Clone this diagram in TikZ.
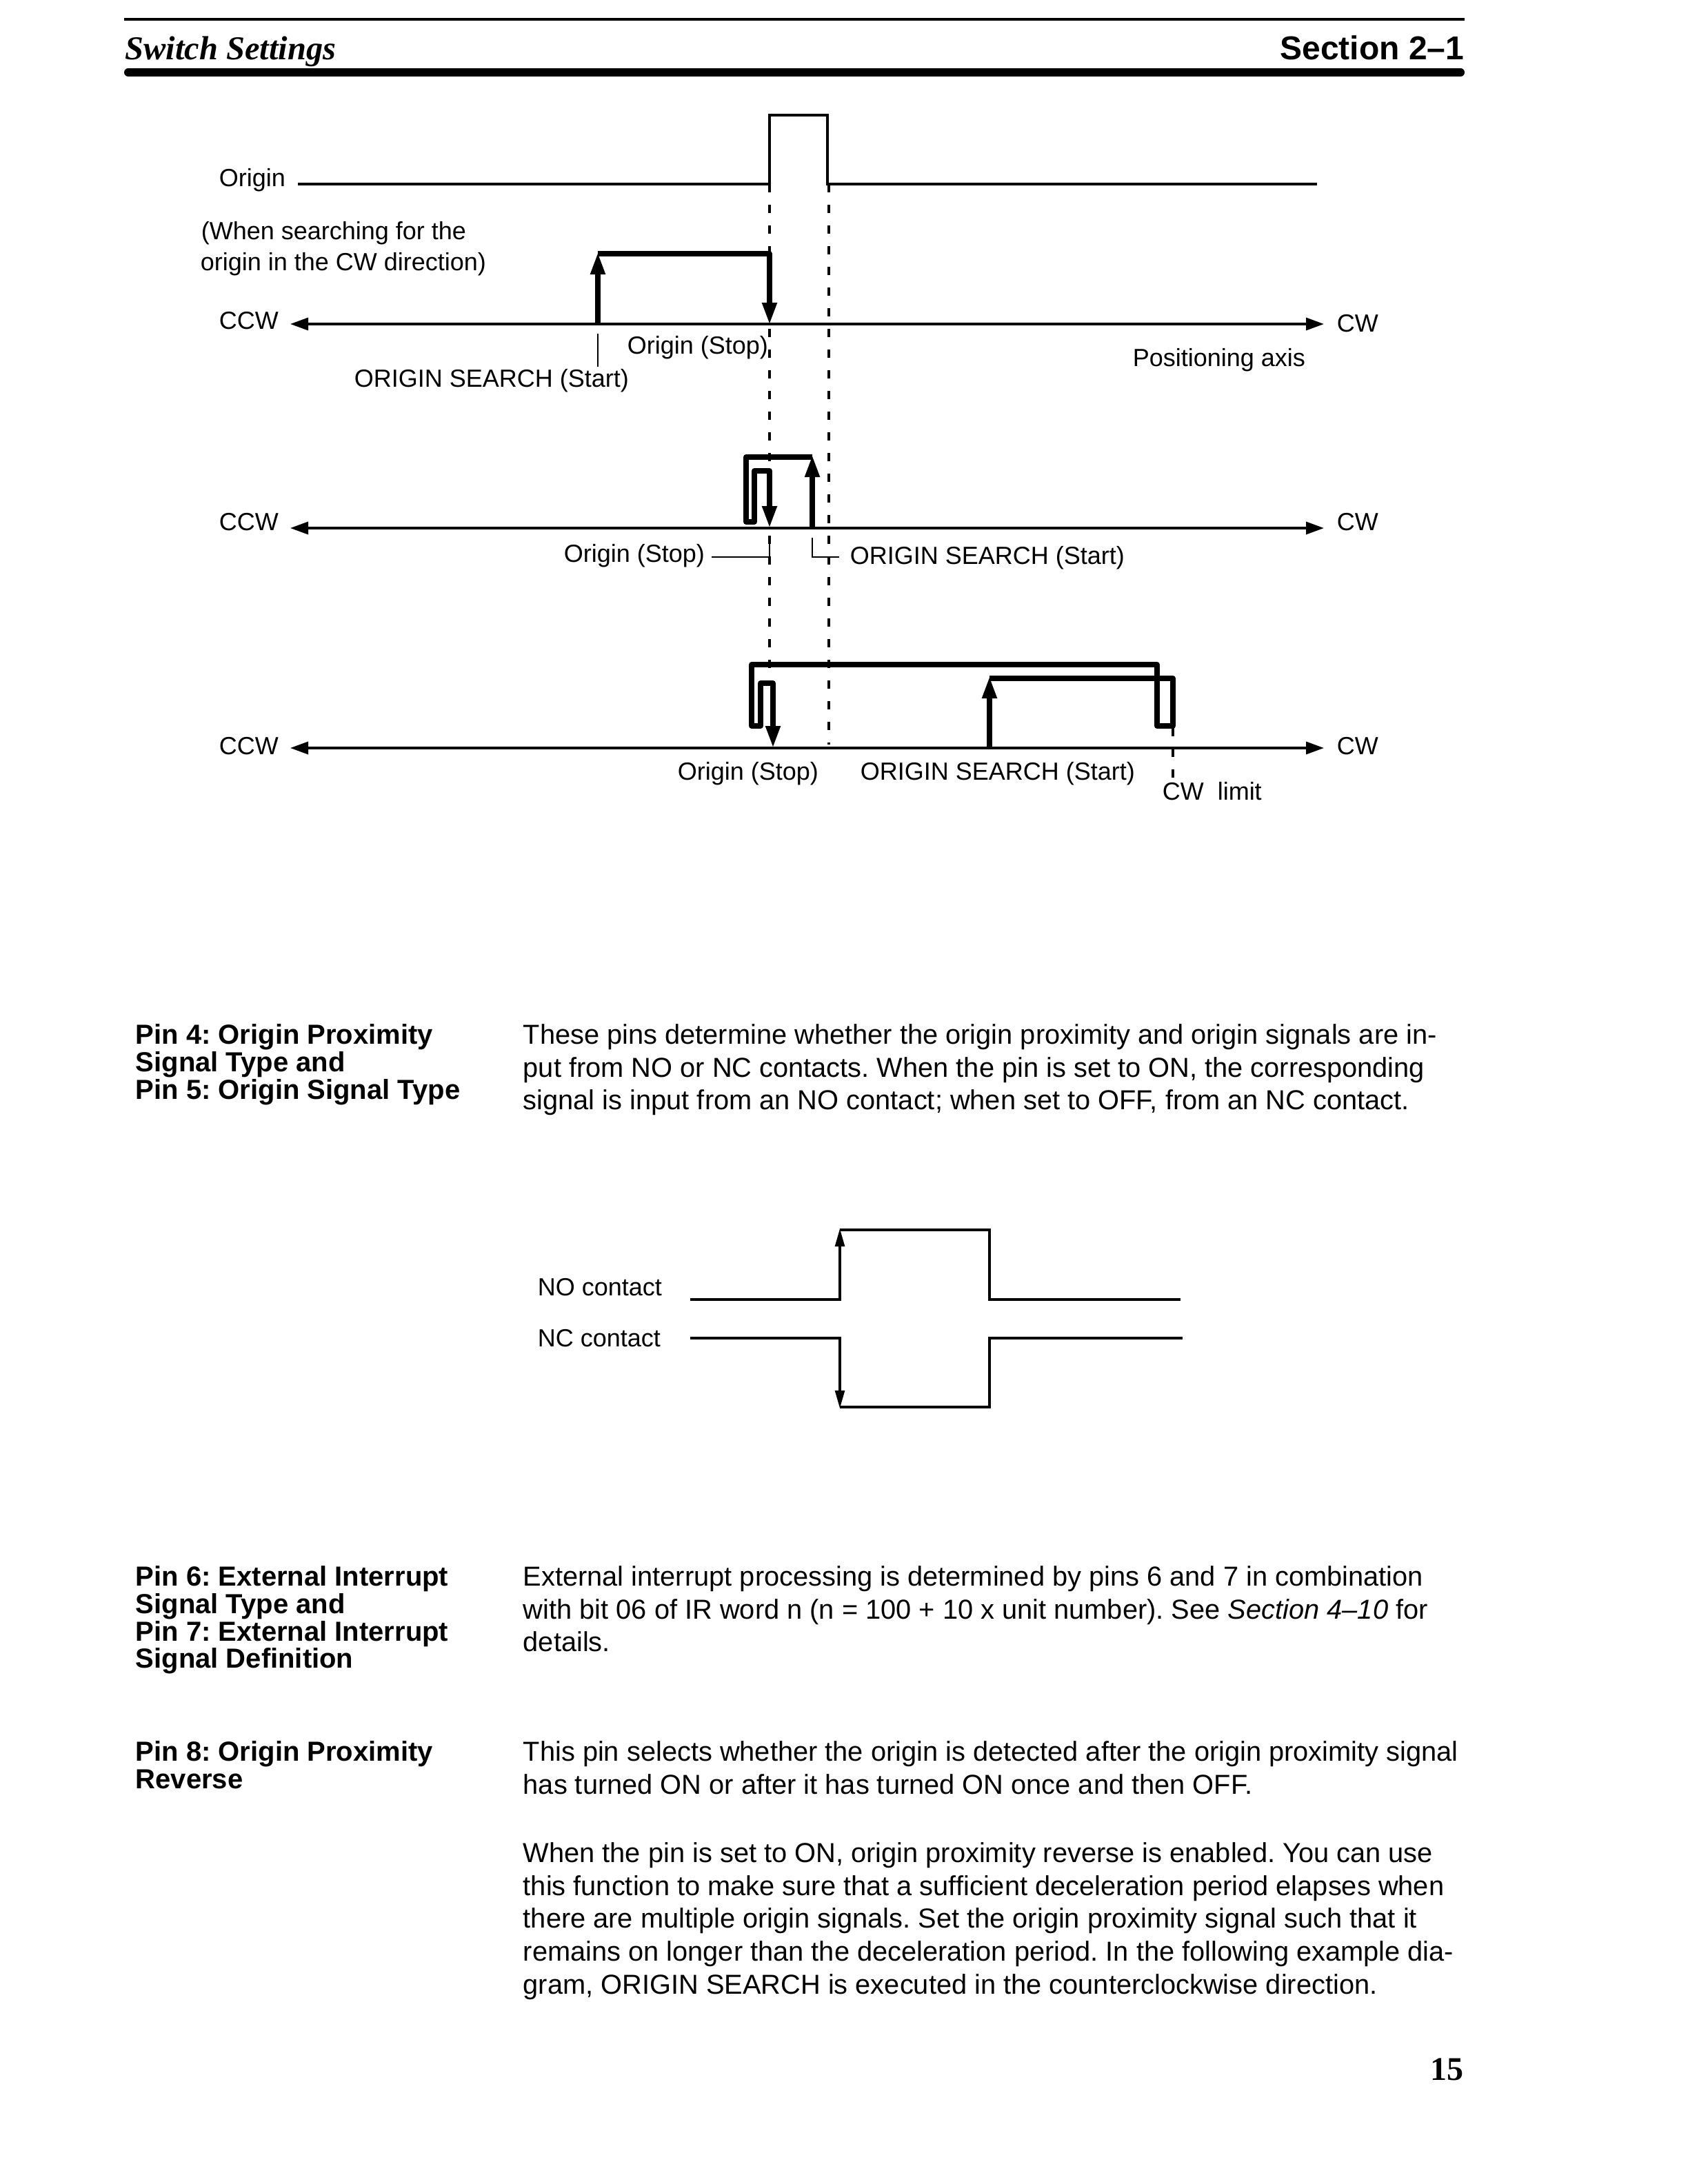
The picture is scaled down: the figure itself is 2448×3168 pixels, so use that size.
\documentclass[tikz,border=0pt]{standalone}
\usepackage{fontspec}
\setmainfont{Liberation Sans}
\newfontfamily\headserif{Liberation Serif}
\usetikzlibrary{arrows.meta,positioning}

\begin{document}
\frenchspacing
\begin{tikzpicture}[
  x=0.25pt, y=-0.25pt,
  lbl/.style={anchor=base west, inner sep=0pt, font=\fontsize{9}{11}\selectfont},
  head/.style={anchor=north west, inner sep=0pt, align=left, font=\fontsize{10}{9.9}\selectfont\bfseries},
  body/.style={anchor=north west, inner sep=0pt, align=left, font=\fontsize{9.95}{11.9}\selectfont},
  axis/.style={line width=0.85pt, {Triangle[length=6.5pt,width=4.5pt]}-{Triangle[length=6.5pt,width=4.5pt]}},
  sig/.style={line width=0.9pt},
  thin/.style={line width=0.7pt},
  move/.style={line width=1.9pt, line join=round},
  moveup/.style={move, -{Triangle[length=8pt,width=5pt]}},
  guide/.style={line width=0.8pt, dash pattern=on 3pt off 4.5pt},
  edge/.style={line width=0.9pt, line join=miter},
  edgetip/.style={edge, -{Triangle[length=6.5pt,width=3.4pt]}}
]
\useasboundingbox (0,0) rectangle (2448,3168);

% Page header
\draw[line width=1pt] (180,28) -- (2124,28);
\draw[line width=3pt, line cap=round] (186,105) -- (2118,105);
\node[anchor=base west, inner sep=0pt, font=\headserif\fontsize{12.1}{15}\selectfont\bfseries\itshape] (title) at (181,87) {Switch Settings};
\node[anchor=base east, inner sep=0pt, font=\fontsize{12}{15}\selectfont\bfseries] (section) at (2124,87) {Section 2--1};

% Origin signal
\coordinate (pulsel) at (1116,267);
\coordinate (pulser) at (1200,267);
\node[lbl] (origin) at (317,270) {Origin};
\coordinate (sigstart) at (432,267);
\coordinate (sigend) at (1910,267);
\draw[sig] (sigstart) -- (pulsel) -- (1116,167) -- (1200,167) -- (pulser) -- (sigend);

% Dashed guides
\draw[guide] (1116,267) -- (1116,974);
\draw[guide] (1202,267) -- (1202,1080);

% First axis
\coordinate (ccwa) at (421,470);
\coordinate (cwa) at (1920,470);
\draw[axis] (ccwa) -- (cwa);
\node[lbl] (noteone) at (291,347) {(When searching for the};
\node[lbl] (notetwo) at (290,392) {origin in the CW direction)};
\node[lbl] (ccwlbla) at (317,477) {CCW};
\node[lbl] (cwlbla) at (1938,481) {CW};
\node[lbl] (stopa) at (909,513) {Origin (Stop)};
\node[lbl] (starta) at (513,561) {ORIGIN SEARCH (Start)};
\node[lbl] (axisname) at (1642,531) {Positioning axis};
\draw[moveup] (867,468) -- (867,366);
\draw[move, -{Triangle[length=8pt,width=5pt]}] (867,368) -- (1116,368) -- (1116,471);
\draw[thin] (867,484) -- (867,532);

% Second axis
\coordinate (ccwb) at (421,766);
\coordinate (cwb) at (1920,766);
\draw[axis] (ccwb) -- (cwb);
\node[lbl] (ccwlblb) at (317,769) {CCW};
\node[lbl] (cwlblb) at (1938,769) {CW};
\node[lbl] (stopb) at (817,815) {Origin (Stop)};
\node[lbl] (startb) at (1232,818) {ORIGIN SEARCH (Start)};
\draw[moveup] (1178,764) -- (1178,660);
\draw[move, -{Triangle[length=8pt,width=5pt]}] (1178,663) -- (1082,663) -- (1082,757) -- (1094,757) -- (1094,683) -- (1116,683) -- (1116,766);
\draw[thin] (1032,808) -- (1116,808);
\draw[thin] (1116,780) -- (1116,810);
\draw[thin] (1178,780) -- (1178,808) -- (1217,808);

% Third axis
\coordinate (ccwc) at (421,1085);
\coordinate (cwc) at (1920,1085);
\draw[axis] (ccwc) -- (cwc);
\node[lbl] (ccwlblc) at (317,1094) {CCW};
\node[lbl] (cwlblc) at (1938,1094) {CW};
\node[lbl] (stopc) at (982,1131) {Origin (Stop)};
\node[lbl] (startc) at (1247,1131) {ORIGIN SEARCH (Start)};
\node[lbl] (limit) at (1685,1160) {CW\ \ limit};
\draw[moveup] (1435,1083) -- (1435,981);
\draw[move, -{Triangle[length=8pt,width=5pt]}] (1435,984) -- (1701,984) -- (1701,1053) -- (1678,1053) -- (1678,964) -- (1090,964) -- (1090,1053) -- (1103,1053) -- (1103,991) -- (1121,991) -- (1121,1085);
\draw[guide] (1701,1056) -- (1701,1136);

% Pins 4 and 5
\node[head] (pinfour) at (196,1485) {Pin 4: Origin Proximity\\Signal Type and\\Pin 5: Origin Signal Type};
\node[body] (pinfourtxt) at (758,1485) {These pins determine whether the origin proximity and origin signals are in-\\put from NO or NC contacts. When the pin is set to ON, the corresponding\\signal is input from an NO contact; when set to OFF, from an NC contact.};

% Contact timing
\node[lbl] (nolbl) at (779,1879) {NO contact};
\node[lbl] (nclbl) at (779,1953) {NC contact};
\draw[edgetip] (1001,1885) -- (1218,1885) -- (1218,1782);
\draw[edge] (1218,1784) -- (1435,1784) -- (1435,1885) -- (1712,1885);
\draw[edgetip] (1001,1941) -- (1218,1941) -- (1218,2043);
\draw[edge] (1218,2041) -- (1435,2041) -- (1435,1941) -- (1715,1941);

% Pins 6 and 7
\node[head] (pinsix) at (196,2271) {Pin 6: External Interrupt\\Signal Type and\\Pin 7: External Interrupt\\Signal Definition};
\node[body] (pinsixtxt) at (758,2271) {External interrupt processing is determined by pins 6 and 7 in combination\\with bit 06 of IR word n (n = 100 + 10 x unit number). See \textit{Section 4--10} for\\details.};

% Pin 8
\node[head] (pineight) at (196,2525) {Pin 8: Origin Proximity\\Reverse};
\node[body] (pineighttxt) at (758,2525) {This pin selects whether the origin is detected after the origin proximity signal\\has turned ON or after it has turned ON once and then OFF.};
\node[body] (pineightmore) at (758,2672) {When the pin is set to ON, origin proximity reverse is enabled. You can use\\this function to make sure that a sufficient deceleration period elapses when\\there are multiple origin signals. Set the origin proximity signal such that it\\remains on longer than the deceleration period. In the following example dia-\\gram, ORIGIN SEARCH is executed in the counterclockwise direction.};

% Page number
\node[anchor=base west, inner sep=0pt, font=\headserif\fontsize{12}{14}\selectfont\bfseries] (pageno) at (2074,3017) {15};

\end{tikzpicture}
\end{document}
